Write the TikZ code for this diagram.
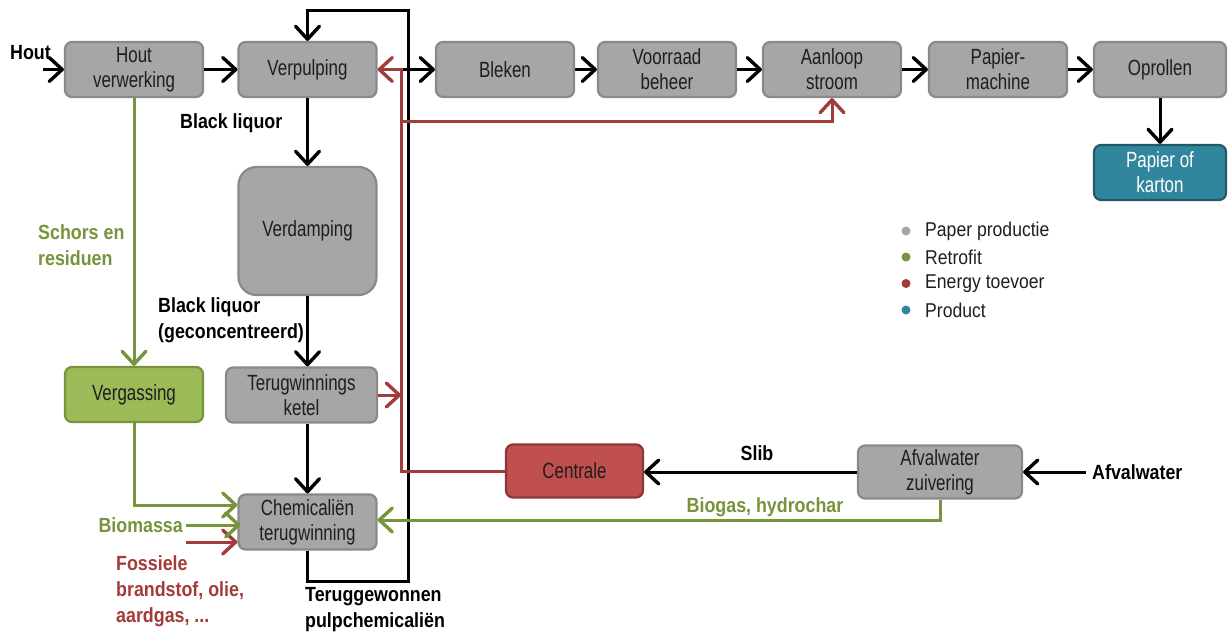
\documentclass[tikz,border=0pt]{standalone}
\usepackage{fontspec}
\setmainfont{Liberation Sans}
\newfontfamily\boxfont[FakeStretch=0.77]{Liberation Sans}
\newfontfamily\lblfont[FakeStretch=0.87]{Liberation Sans}
\newfontfamily\legfont[FakeStretch=0.88]{Liberation Sans}
\usetikzlibrary{arrows.meta}

\definecolor{boxgray}{HTML}{A6A6A6}
\definecolor{boxedge}{HTML}{898989}
\definecolor{retrofill}{HTML}{9BBB59}
\definecolor{retroedge}{HTML}{77933C}
\definecolor{energyfill}{HTML}{C0504D}
\definecolor{energyedge}{HTML}{8C3836}
\definecolor{prodfill}{HTML}{31859C}
\definecolor{prodedge}{HTML}{215968}
\definecolor{gline}{HTML}{77933C}
\definecolor{rline}{HTML}{A33B3A}
\definecolor{boxtext}{HTML}{1E1E1E}

\tikzset{
  proc/.style={draw=boxedge, fill=boxgray, line width=2.2pt, rounded corners=7pt,
    minimum width=138pt, minimum height=55pt, inner sep=0pt, align=center,
    text=boxtext, font=\boxfont\fontsize{22}{25}\selectfont},
  retro/.style={draw=retroedge, fill=retrofill},
  energy/.style={draw=energyedge, fill=energyfill},
  prod/.style={draw=prodedge, fill=prodfill, text=white},
  chev/.tip={Straight Barb[length=13pt,width=24pt,line width=3.4pt,line cap=round,line join=round]},
  flow/.style={line width=3pt, draw=black, -chev},
  gflow/.style={flow, draw=gline},
  rflow/.style={flow, draw=rline},
  lbl/.style={inner sep=0pt, align=left, text=black,
    font=\lblfont\bfseries\fontsize{20.5}{26}\selectfont},
  leg/.style={inner sep=0pt, anchor=west, text=boxtext,
    font=\legfont\fontsize{20}{22}\selectfont},
  dot/.style={circle, inner sep=0pt, minimum size=9pt, draw=none},
}

\begin{document}
\begin{tikzpicture}[x=1pt, y=-1pt, line join=miter]
\useasboundingbox (0,0) rectangle (1229,635);

% process boxes
\node[proc] (hv) at (134,69.5) {Hout\\verwerking};
\node[proc] (vp) at (307.5,69.5) {Verpulping};
\node[proc] (bl) at (505,69.5) {Bleken};
\node[proc] (vb) at (667,69.5) {Voorraad\\beheer};
\node[proc] (as) at (832,69.5) {Aanloop\\stroom};
\node[proc] (pm) at (998,69.5) {Papier-\\machine};
\node[proc, minimum width=132pt] (op) at (1160,69.5) {Oprollen};
\node[proc, prod, minimum width=132pt] (pk) at (1160,172.5) {Papier of\\karton};
\node[proc, minimum height=128pt, rounded corners=18pt] (vd) at (307.5,231) {Verdamping};
\node[proc, minimum width=151pt] (tk) at (301.5,395) {Terugwinnings\\ketel};
\node[proc, retro] (vg) at (134,394.5) {Vergassing};
\node[proc] (ct) at (307.5,522) {Chemicaliën\\terugwinning};
\node[proc, energy, minimum width=137pt, minimum height=53pt] (ce) at (574.5,471) {Centrale};
\node[proc, minimum width=164pt, minimum height=53pt] (az) at (940,472) {Afvalwater\\zuivering};

% text labels
\node[lbl, anchor=west] (hl) at (10,53) {Hout};
\node[lbl, anchor=west] (blq) at (180,123) {Black liquor};
\node[lbl, anchor=west, text=gline] (sr) at (38,245) {Schors en\\residuen};
\node[lbl, anchor=west] (blc) at (158,320) {Black liquor\\(geconcentreerd)};
\node[lbl, anchor=east, text=gline] (bm) at (183,525) {Biomassa};
\node[lbl, anchor=west, text=rline] (fo) at (116,591.5) {Fossiele\\brandstof, olie,\\aardgas, ...};
\node[lbl, anchor=west] (tp) at (305,610) {Teruggewonnen\\pulpchemicaliën};
\node[lbl] (sl) at (757,453) {Slib};
\node[lbl, text=gline] (bh) at (765,507) {Biogas, hydrochar};
\node[lbl, anchor=west] (aw) at (1092,472) {Afvalwater};

% helper points
\coordinate (houtin) at (43,69.5);
\coordinate (rj) at (401,69.5);
\coordinate (rb) at (401,121);
\coordinate (loopr) at (408,10);
\coordinate (fu) at (186,542);

% main paper line
\draw[flow] (houtin) -- (hv.west);
\draw[flow] (hv.east) -- (vp.west);
\draw[flow] (vp.east) -- (bl.west);
\draw[flow] (bl.east) -- (vb.west);
\draw[flow] (vb.east) -- (as.west);
\draw[flow] (as.east) -- (pm.west);
\draw[flow] (pm.east) -- (op.west);
\draw[flow] (op.south) -- (pk.north);

% liquor and chemical recovery loop
\draw[flow] (vp.south) -- (vd.north);
\draw[flow] (vd.south) -- (vd.south |- tk.north);
\draw[flow] (vd.south |- tk.south) -- (ct.north);
\draw[flow] (ct.south) -- ++(0,31) -| (loopr) -| (vp.north);

% energy supply
\draw[rflow] (ce.west) -| (rj) -- (vp.east);
\draw[rflow] (rb) -| (as.south);
\draw[rflow] (tk.east) -- (tk.east -| rj);
\draw[rflow] (fu) -- (fu -| ct.west);

% retrofit streams
\draw[gflow] (hv.south) -- (vg.north);
\draw[gflow] (vg.south) |- ([yshift=17pt]ct.west);
\draw[gflow] ([xshift=3pt]bm.east) -- ([xshift=3pt]bm.east -| ct.west);
\draw[gflow] (az.south) |- ([yshift=2pt]ct.east);

% waste water
\draw[flow] (az.west) -- (az.west -| ce.east);
\draw[flow] ([xshift=-6pt]aw.west) -- (az.east);

% legend
\node[dot, fill=boxgray] (d1) at (906,231) {};
\node[dot, fill=gline] (d2) at (906,257) {};
\node[dot, fill=rline] (d3) at (906,283.5) {};
\node[dot, fill=prodfill] (d4) at (906,310) {};
\node[leg] (l1) at (925,231) {Paper productie};
\node[leg] (l2) at (925,257) {Retrofit};
\node[leg] (l3) at (925,283.5) {Energy toevoer};
\node[leg] (l4) at (925,310) {Product};
\end{tikzpicture}
\end{document}
